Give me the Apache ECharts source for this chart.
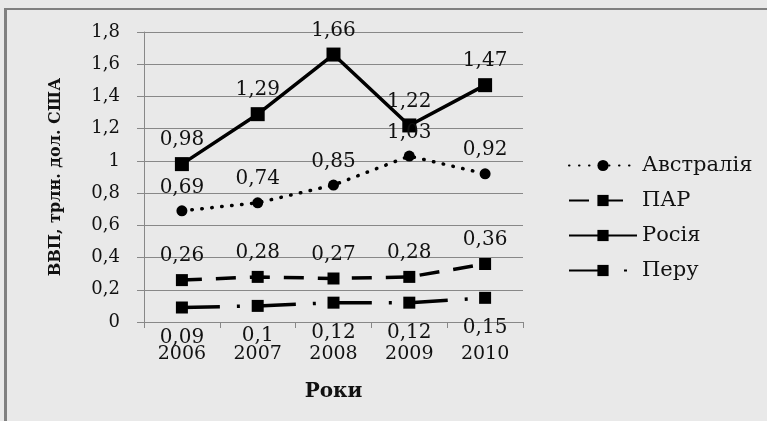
<!DOCTYPE html>
<html>
<head>
<meta charset="utf-8">
<script src="https://cdn.jsdelivr.net/npm/echarts@6/dist/echarts.min.js"></script>
<style>
html,body{margin:0;padding:0;background:#e9e9e9;}
#c{width:767px;height:421px;}
</style>
</head>
<body>
<div id="c"></div>
<script>
const years = ['2006', '2007', '2008', '2009', '2010'];
const australia = [0.69, 0.74, 0.85, 1.03, 0.92];
const par = [0.26, 0.28, 0.27, 0.28, 0.36];
const russia = [0.98, 1.29, 1.66, 1.22, 1.47];
const peru = [0.09, 0.1, 0.12, 0.12, 0.15];
const seriesNames = ['Австралія', 'ПАР', 'Росія', 'Перу'];
const yTitle = 'ВВП, трлн. дол. США';
const xTitle = 'Роки';

const FONT = 'DejaVu Serif';
const fmt = v => String(+(+v).toFixed(2)).replace('.', ',');

function mkSeries(name, data, symbol, symbolSize, lineType, cap, labelPos, labelDist) {
  return {
    name: name, type: 'line', data: data,
    symbol: symbol, symbolSize: symbolSize,
    itemStyle: {color: '#000'},
    lineStyle: {color: '#000', width: 3.5, type: lineType, cap: cap},
    label: {
      show: true, position: labelPos, distance: labelDist,
      formatter: p => fmt(p.value),
      fontFamily: FONT, fontSize: 20, color: '#111'
    },
    animation: false
  };
}

const chart = echarts.init(document.getElementById('c'));
chart.setOption({
  backgroundColor: '#e9e9e9',
  animation: false,
  graphic: [
    {type: 'line', shape: {x1: 5, y1: 9, x2: 767, y2: 9}, style: {stroke: '#808080', lineWidth: 2}},
    {type: 'line', shape: {x1: 5.5, y1: 8, x2: 5.5, y2: 421}, style: {stroke: '#808080', lineWidth: 3}}
  ],
  grid: {left: 144, right: 244, top: 32, bottom: 99},
  legend: {
    orient: 'vertical', left: 563, top: 150,
    itemWidth: 68, itemHeight: 14, itemGap: 14,
    textStyle: {fontFamily: FONT, fontSize: 21, color: '#111'},
    data: seriesNames
  },
  xAxis: {
    type: 'category', data: years, boundaryGap: true,
    name: xTitle, nameLocation: 'middle', nameGap: 60,
    nameTextStyle: {fontFamily: FONT, fontSize: 20, fontWeight: 'bold', color: '#111'},
    axisLine: {lineStyle: {color: '#888', width: 1}},
    axisTick: {show: true, length: 6, lineStyle: {color: '#888'}},
    axisLabel: {margin: 23, fontFamily: FONT, fontSize: 19, color: '#111'},
    splitLine: {show: false}
  },
  yAxis: {
    type: 'value', min: 0, max: 1.8, interval: 0.2,
    name: yTitle, nameLocation: 'middle', nameGap: 80,
    nameTextStyle: {fontFamily: FONT, fontSize: 16, fontWeight: 'bold', color: '#111'},
    axisLine: {show: true, lineStyle: {color: '#888', width: 1}},
    axisTick: {show: true, length: 7, lineStyle: {color: '#888'}},
    axisLabel: {margin: 24, fontFamily: FONT, fontSize: 18, color: '#111', formatter: v => fmt(v)},
    splitLine: {show: true, lineStyle: {color: '#888', width: 1}}
  },
  series: [
    mkSeries(seriesNames[0], australia, 'circle', 11, [0.5, 9.5], 'round', 'top', 8),
    mkSeries(seriesNames[1], par, 'rect', 12, [20, 14], 'butt', 'top', 8),
    mkSeries(seriesNames[2], russia, 'rect', 14, 'solid', 'butt', 'top', 7),
    mkSeries(seriesNames[3], peru, 'rect', 12, [38, 17, 3, 18], 'butt', 'bottom', 14)
  ]
});
</script>
</body>
</html>
